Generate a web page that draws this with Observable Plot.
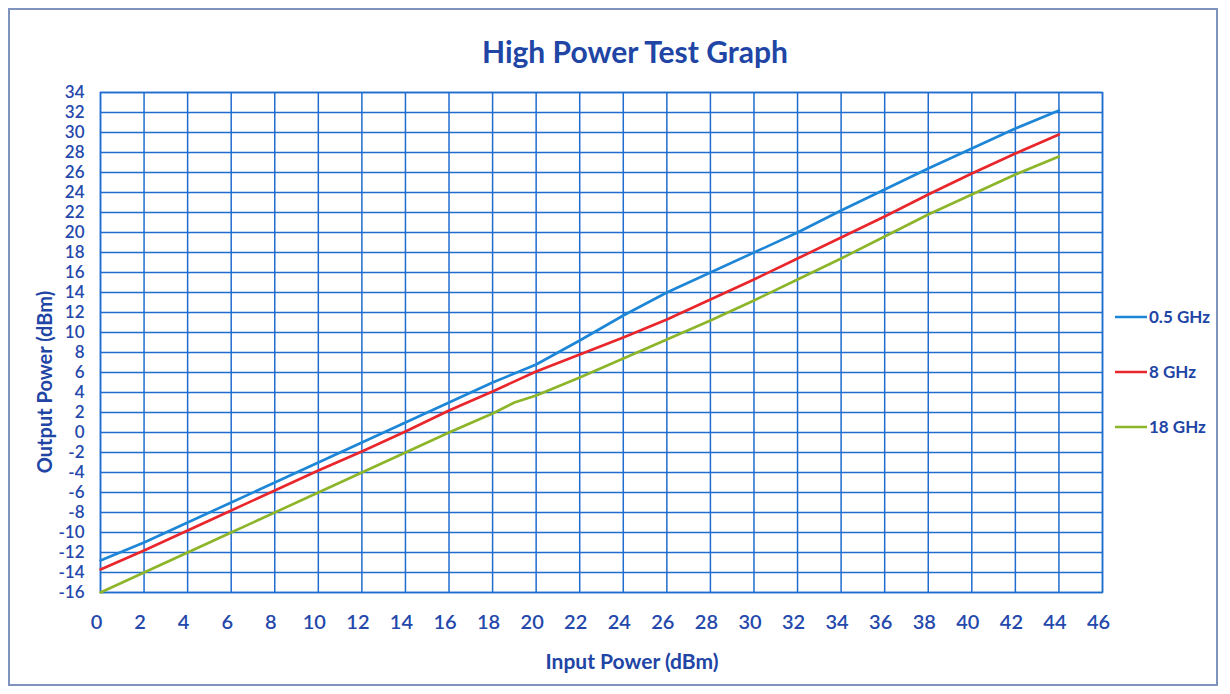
<!DOCTYPE html>
<html>
<head>
<meta charset="utf-8">
<script src="https://cdn.jsdelivr.net/npm/d3@7"></script>
<script src="https://cdn.jsdelivr.net/npm/@observablehq/plot@0.6"></script>
<style>
  html, body { margin: 0; padding: 0; background: #fff; }
  #page { position: relative; width: 1230px; height: 694px; overflow: hidden; font-family: Lato, "Open Sans", sans-serif; }
  #frame { position: absolute; left: 8px; top: 8px; width: 1210px; height: 678px; border: 2px solid #7f93bf; box-sizing: border-box; }
  #title { position: absolute; left: 0; width: 1270px; top: 33px; text-align: center; font-size: 30px; font-weight: bold; color: #2145a5; }
  #chart { position: absolute; left: 0; top: 80px; }
  #xlabel { position: absolute; left: 482px; width: 300px; top: 648px; text-align: center; font-size: 21px; font-weight: bold; color: #2145a5; }
  #ylabel { position: absolute; left: 44px; top: 382px; transform: translate(-50%, -50%) rotate(-90deg); white-space: nowrap; font-size: 20px; font-weight: bold; color: #2145a5; }
  #legend { position: absolute; left: 1115px; top: 306px; }
  .item { position: absolute; left: 0; display: flex; align-items: center; white-space: nowrap; font-size: 17px; font-weight: bold; color: #2145a5; }
  .item svg { margin-right: 2px; }
</style>
</head>
<body>
<div id="page">
  <div id="frame"></div>
  <div id="title">High Power Test Graph</div>
  <div id="chart"></div>
  <div id="xlabel">Input Power (dBm)</div>
  <div id="ylabel">Output Power (dBm)</div>
  <div id="legend"></div>
</div>
<script>
const seriesNames = ["0.5 GHz", "8 GHz", "18 GHz"];
const seriesColors = ["#1e86d6", "#e8262b", "#8cb52a"];

const x05 = [0, 2, 4, 6, 8, 10, 12, 14, 16, 18, 20, 22, 24, 26, 28, 30, 32, 34, 36, 38, 40, 42, 44];
const y05 = [-12.8, -11, -9, -7, -5, -3, -1, 1, 3, 5, 6.8, 9.2, 11.7, 14, 16, 18, 20, 22.2, 24.3, 26.4, 28.4, 30.4, 32.2];

const x8 = [0, 2, 4, 6, 8, 10, 12, 14, 16, 18, 20, 22, 24, 26, 28, 30, 32, 34, 36, 38, 40, 42, 44];
const y8 = [-13.7, -11.8, -9.8, -7.8, -5.8, -3.8, -1.9, 0.1, 2.2, 4.1, 6.1, 7.8, 9.5, 11.3, 13.3, 15.3, 17.4, 19.5, 21.6, 23.8, 25.9, 27.9, 29.8];

const x18 = [0, 2, 4, 6, 8, 10, 12, 14, 16, 18, 19, 20, 22, 24, 26, 28, 30, 32, 34, 36, 38, 40, 42, 44];
const y18 = [-16, -14, -12, -10, -8, -6, -4, -2, 0, 1.9, 3, 3.7, 5.5, 7.4, 9.3, 11.2, 13.2, 15.3, 17.4, 19.6, 21.8, 23.8, 25.8, 27.6];

const xTicks = [0, 2, 4, 6, 8, 10, 12, 14, 16, 18, 20, 22, 24, 26, 28, 30, 32, 34, 36, 38, 40, 42, 44, 46];
const yTicks = [-16, -14, -12, -10, -8, -6, -4, -2, 0, 2, 4, 6, 8, 10, 12, 14, 16, 18, 20, 22, 24, 26, 28, 30, 32, 34];

const rows = [];
[[x05, y05], [x8, y8], [x18, y18]].forEach(([xs, ys], i) => {
  xs.forEach((x, j) => rows.push({ series: seriesNames[i], x, y: ys[j] }));
});

const gridColor = "#1f6ccf";
const textColor = "#2448ab";
const fmt = d => String(d);

const chart = Plot.plot({
  width: 1230,
  height: 614,
  marginLeft: 100,
  marginRight: 128,
  marginTop: 12,
  marginBottom: 102,
  style: { fontFamily: "Lato, 'Open Sans', sans-serif", background: "transparent" },
  x: { domain: [0, 46], label: null },
  y: { domain: [-16, 34], label: null },
  color: { domain: seriesNames, range: seriesColors },
  marks: [
    Plot.gridX(xTicks, { stroke: gridColor, strokeOpacity: 1, strokeWidth: 1.5 }),
    Plot.gridY(yTicks, { stroke: gridColor, strokeOpacity: 1, strokeWidth: 1.5 }),
    Plot.frame({ stroke: gridColor, strokeWidth: 1.5 }),
    Plot.axisX(xTicks, { tickSize: 0, tickPadding: 22, fontSize: 20, fontWeight: 600, fill: textColor, label: null, tickFormat: fmt, dx: -4 }),
    Plot.axisY(yTicks, { tickSize: 0, tickPadding: 16, fontSize: 17, fontWeight: 600, fill: textColor, label: null, tickFormat: fmt }),
    Plot.line(rows, { x: "x", y: "y", z: "series", stroke: "series", strokeWidth: 2.6 })
  ]
});
document.getElementById("chart").appendChild(chart);

const legend = document.getElementById("legend");
seriesNames.forEach((name, i) => {
  const div = document.createElement("div");
  div.className = "item";
  div.style.top = (i * 55) + "px";
  div.innerHTML = `<svg width="32" height="10"><line x1="0" y1="5" x2="32" y2="5" stroke="${seriesColors[i]}" stroke-width="2.5"/></svg>${name}`;
  legend.appendChild(div);
});
</script>
</body>
</html>
